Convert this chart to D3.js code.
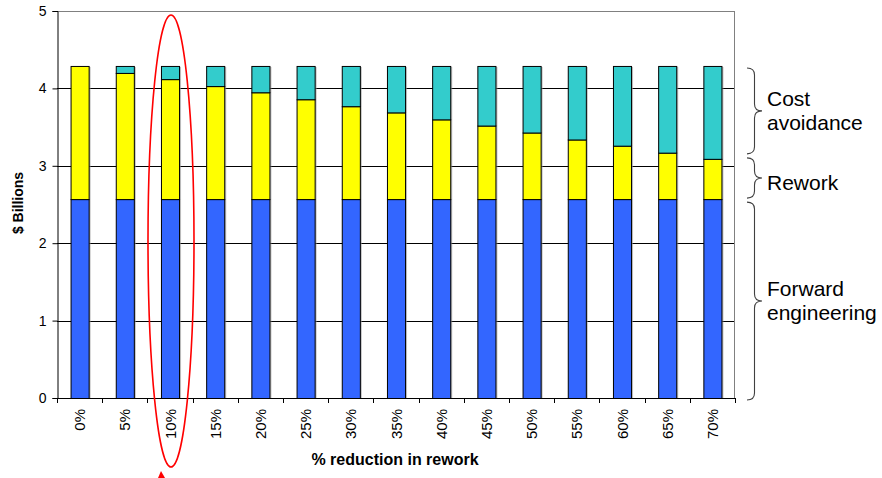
<!DOCTYPE html>
<html>
<head>
<meta charset="utf-8">
<script src="https://cdn.jsdelivr.net/npm/d3@7"></script>
<style>
  body { margin: 0; background: #fff; }
  svg { display: block; font-family: "Liberation Sans", Arial, sans-serif; }
</style>
</head>
<body>
<svg id="chart" width="882" height="478"></svg>
<script>
// Categories: percentage reduction in rework
const categories = ["0%", "5%", "10%", "15%", "20%", "25%", "30%", "35%", "40%", "45%", "50%", "55%", "60%", "65%", "70%"];
// Stacked series, $ billions
const forwardEngineering = [2.57, 2.57, 2.57, 2.57, 2.57, 2.57, 2.57, 2.57, 2.57, 2.57, 2.57, 2.57, 2.57, 2.57, 2.57];
const rework = [1.72, 1.63, 1.55, 1.46, 1.38, 1.29, 1.20, 1.12, 1.03, 0.95, 0.86, 0.77, 0.69, 0.60, 0.52];
const costAvoidance = [0.00, 0.09, 0.17, 0.26, 0.34, 0.43, 0.52, 0.60, 0.69, 0.77, 0.86, 0.95, 1.03, 1.12, 1.20];
const yTicks = [0, 1, 2, 3, 4, 5];

const seriesKeys = ["forward", "rework", "avoid"];
const seriesColors = { forward: "#3366FF", rework: "#FFFF00", avoid: "#33CCCC" };

const rows = categories.map((c, i) => ({
  cat: c, forward: forwardEngineering[i], rework: rework[i], avoid: costAvoidance[i]
}));

const svg = d3.select("#chart");
const m = { left: 57, right: 735, top: 11, bottom: 398 };

const x = d3.scaleBand().domain(categories).range([m.left, m.right]).paddingInner(0.6).paddingOuter(0.3);
const y = d3.scaleLinear().domain([0, 5]).range([m.bottom, m.top]);

// Gridlines
svg.append("g").selectAll("line").data(yTicks.filter(d => d > 0 && d < 5)).join("line")
  .attr("x1", m.left).attr("x2", m.right)
  .attr("y1", d => Math.round(y(d)) + 0.5).attr("y2", d => Math.round(y(d)) + 0.5)
  .attr("stroke", "#000").attr("stroke-width", 1);

// Plot frame (top and right)
svg.append("line").attr("x1", m.left).attr("x2", m.right).attr("y1", m.top + 0.5).attr("y2", m.top + 0.5)
  .attr("stroke", "#808080");
svg.append("line").attr("x1", m.right - 0.5).attr("x2", m.right - 0.5).attr("y1", m.top).attr("y2", m.bottom)
  .attr("stroke", "#808080");

// Stacked bars
const stacked = d3.stack().keys(seriesKeys)(rows);
const barG = svg.append("g");
stacked.forEach(layer => {
  // soft shadow
  barG.append("g").selectAll("rect").data(layer.filter(d => d[1] - d[0] > 0)).join("rect")
    .attr("x", d => x(d.data.cat) + 2).attr("width", x.bandwidth())
    .attr("y", d => y(d[1]) + 1).attr("height", d => y(d[0]) - y(d[1]))
    .attr("fill", "#999").attr("opacity", 0.6);
});
stacked.forEach(layer => {
  barG.append("g").selectAll("rect").data(layer.filter(d => d[1] - d[0] > 0)).join("rect")
    .attr("x", d => x(d.data.cat) + 0.5).attr("width", x.bandwidth())
    .attr("y", d => y(d[1]) + 0.5).attr("height", d => y(d[0]) - y(d[1]))
    .attr("fill", seriesColors[layer.key]).attr("stroke", "#000").attr("stroke-width", 1);
});

// Y axis
const yAxis = svg.append("g").attr("transform", `translate(${m.left + 0.5},0)`)
  .call(d3.axisLeft(y).tickValues(yTicks).tickFormat(d3.format("d")).tickSize(5).tickPadding(6));
yAxis.select(".domain").attr("stroke", "#000");
yAxis.selectAll("text").attr("font-size", 14).attr("fill", "#000").attr("font-family", "Liberation Sans, Arial");

// X axis with ticks at category boundaries
svg.append("line").attr("x1", m.left).attr("x2", m.right).attr("y1", m.bottom + 0.5).attr("y2", m.bottom + 0.5)
  .attr("stroke", "#000");
const bounds = d3.range(categories.length + 1).map(i => m.left + i * (m.right - m.left) / categories.length);
svg.append("g").selectAll("line").data(bounds).join("line")
  .attr("x1", d => Math.round(d) + 0.5).attr("x2", d => Math.round(d) + 0.5)
  .attr("y1", m.bottom).attr("y2", m.bottom + 5).attr("stroke", "#000");

svg.append("g").selectAll("text").data(categories).join("text")
  .attr("transform", d => `translate(${x(d) + x.bandwidth() / 2 + 5.5},${m.bottom + 11}) rotate(-90)`)
  .attr("text-anchor", "end").attr("font-size", 15).attr("fill", "#000")
  .text(d => d);

// Axis titles
svg.append("text").attr("transform", `translate(23,${203}) rotate(-90)`)
  .attr("text-anchor", "middle").attr("font-size", 14).attr("font-weight", "bold").text("$ Billions");
svg.append("text").attr("x", 395).attr("y", 465)
  .attr("text-anchor", "middle").attr("font-size", 16).attr("font-weight", "bold").text("% reduction in rework");

// Curly braces with segment labels
function brace(y0, y1, xl, xr) {
  const mid = (y0 + y1) / 2, w = xr - xl, r = Math.min(7, (y1 - y0) / 4);
  const xm = xl + w * 0.5;
  return `M${xl},${y0} Q${xm},${y0} ${xm},${y0 + r}` +
    ` L${xm},${mid - r} Q${xm},${mid} ${xr},${mid}` +
    ` Q${xm},${mid} ${xm},${mid + r}` +
    ` L${xm},${y1 - r} Q${xm},${y1} ${xl},${y1}`;
}
const lastIdx = categories.length - 1;
const segs = [
  { y0: y(forwardEngineering[lastIdx] + rework[lastIdx] + costAvoidance[lastIdx]) + 2, y1: y(forwardEngineering[lastIdx] + rework[lastIdx]) - 5, lines: ["Cost", "avoidance"], dy: 0 },
  { y0: y(forwardEngineering[lastIdx] + rework[lastIdx]) - 1, y1: y(forwardEngineering[lastIdx]) - 1, lines: ["Rework"], dy: 5 },
  { y0: y(forwardEngineering[lastIdx]) + 3, y1: y(0) + 2, lines: ["Forward", "engineering"], dy: 0 }
];
segs.forEach(s => {
  svg.append("path").attr("d", brace(s.y0, s.y1, 747, 762))
    .attr("fill", "none").attr("stroke", "#404040").attr("stroke-width", 1.1);
  const mid = (s.y0 + s.y1) / 2;
  const t = svg.append("text").attr("x", 767).attr("font-size", 21).attr("fill", "#000");
  s.lines.forEach((ln, i) => {
    t.append("tspan").attr("x", 767)
      .attr("y", mid + 7 + s.dy + (i - (s.lines.length - 1) / 2) * 24)
      .text(ln);
  });
});

// Highlight ellipse around the 10% bar
const hx = x("10%") + x.bandwidth() / 2;
svg.append("ellipse").attr("cx", hx + 1).attr("cy", 241).attr("rx", 23).attr("ry", 226)
  .attr("fill", "none").attr("stroke", "#FF0000").attr("stroke-width", 1.6);
svg.append("path").attr("d", `M${hx - 12},478 L${hx - 9},471 L${hx - 5},478 Z`).attr("fill", "#FF0000");
</script>
</body>
</html>
